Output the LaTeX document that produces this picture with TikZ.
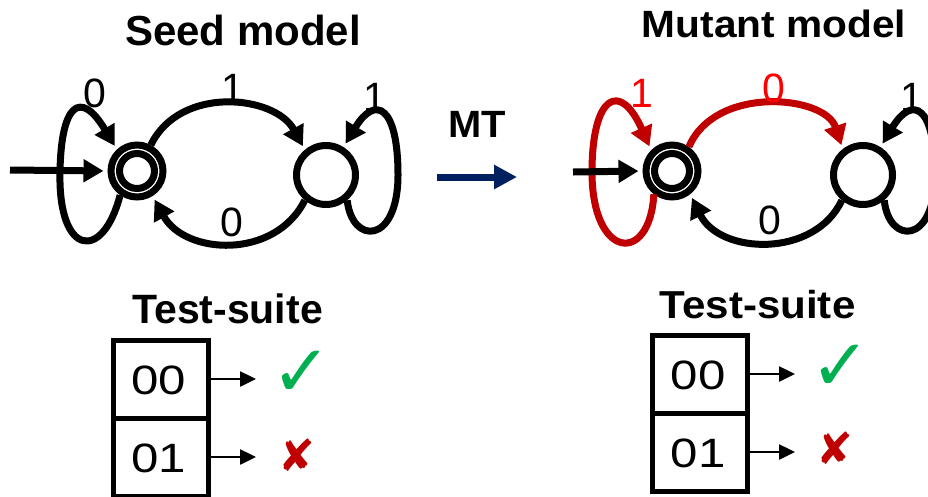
\documentclass[tikz,border=0pt]{standalone}
\usepackage{fontspec}
\setmainfont{Liberation Sans}
\newfontfamily\dejavu{DejaVu Sans}
\usetikzlibrary{arrows.meta}
\definecolor{navy}{HTML}{002060}
\definecolor{dred}{HTML}{C00000}
\definecolor{lred}{HTML}{FF0000}
\definecolor{okgreen}{HTML}{00B050}
\tikzset{
  stateouter/.style={circle,draw,line width=7pt,minimum size=52pt,inner sep=0pt},
  stateinner/.style={circle,draw,line width=7pt,minimum size=35pt,inner sep=0pt},
  stateplain/.style={circle,draw,line width=7pt,minimum size=59pt,inner sep=0pt},
  trans/.style={line width=7pt,-{Triangle[length=20pt,width=22pt]},shorten >=4pt},
  lbl/.style={font=\fontsize{41}{44}\selectfont,inner sep=0pt},
  title/.style={font=\fontsize{42}{48}\selectfont\bfseries,inner sep=0pt,anchor=base},
  tbox/.style={draw,line width=5pt,minimum width=95pt,minimum height=78pt,inner sep=0pt},
  boxtext/.style={font=\fontsize{41}{44}\selectfont,inner sep=0pt,xscale=1.2},
  tarrow/.style={line width=2.5pt,-{Triangle[length=16pt,width=15pt]}},
  okmark/.style={font=\dejavu\fontsize{72}{74}\selectfont,text=okgreen,inner sep=0pt},
  komark/.style={font=\dejavu\fontsize{44}{46}\selectfont,text=dred,inner sep=0pt}
}
\begin{document}
\begin{tikzpicture}[x=1pt,y=-1pt]
\useasboundingbox (0,0) rectangle (928,496);

% titles
\node[title] (t1) at (243,45) {Seed model};
\node[title,font=\fontsize{38}{44}\selectfont\bfseries,xscale=1.07] (t2) at (774,37) {Mutant model};
\node[title,font=\fontsize{38}{44}\selectfont\bfseries,xscale=1.05] (mt) at (477,137) {MT};
\node[title,font=\fontsize{41}{46}\selectfont\bfseries] (ts1) at (227.5,323) {Test-suite};
\node[title,font=\fontsize{39}{44}\selectfont\bfseries,xscale=1.08] (ts2) at (757.5,318) {Test-suite};

% MT arrow
\coordinate (mta) at (437,177);
\coordinate (mtb) at (517,177);
\draw[navy,line width=7pt,-{Triangle[length=23pt,width=23pt]}] (mta) -- (mtb);

% ---------- seed model ----------
\node[stateouter] (s0) at (137,171) {};
\node[stateinner] (s0i) at (137,171) {};
\node[stateplain] (s1) at (326,175) {};

\draw[trans] (s0.62) .. controls (180,85) and (275,95) .. (s1.130);
\draw[trans] (s1.230) .. controls (275,260) and (185,255) .. (s0.-58);
\draw[trans] (s0.235) .. controls (103,262) and (58,257) .. (60,172)
             .. controls (61,105) and (80,88) .. (s0.133);
\draw[trans] (s1.-50) .. controls (352,245) and (398,245) .. (398,175)
             .. controls (398,105) and (375,95) .. (s1.58);
\coordinate (init0) at (10,170);
\draw[trans] (init0) -- (s0.west);

\node[lbl] (l1) at (95,93) {0};
\node[lbl] (l2) at (233,88) {1};
\node[lbl] (l3) at (375,97) {1};
\node[lbl] (l4) at (232,222) {0};

% ---------- mutant model ----------
\node[stateouter] (m0) at (672,171) {};
\node[stateinner] (m0i) at (672,171) {};
\node[stateplain] (m1) at (863,175) {};

\draw[trans,dred] (m0.232) .. controls (650,265) and (592,260) .. (592,172)
             .. controls (592,95) and (620,80) .. (m0.135);
\draw[trans,dred] (m0.55) .. controls (715,85) and (825,95) .. (m1.128);
\draw[trans] (m1.230) .. controls (815,258) and (720,255) .. (m0.-52);
\draw[trans] (m1.-50) .. controls (889,245) and (935,245) .. (935,175)
             .. controls (935,105) and (912,95) .. (m1.58);
\coordinate (init1) at (573,172);
\draw[trans] (init1) -- (m0.west);

\node[lbl,text=lred] (k1) at (642,93) {1};
\node[lbl,text=lred] (k2) at (774,88) {0};
\node[lbl] (k3) at (912,97) {1};
\node[lbl] (k4) at (770,220) {0};

% ---------- test suites ----------
\node[tbox] (tb0) at (160.5,379) {};
\node[tbox] (tb1) at (160.5,457) {};
\node[boxtext] (tx0) at (159,380) {00};
\node[boxtext] (tx1) at (159,458) {01};
\coordinate (ta0) at (256,379);
\coordinate (ta1) at (256,457);
\draw[tarrow] (tb0.east) -- (ta0);
\draw[tarrow] (tb1.east) -- (ta1);
\node[okmark] (ok0) at (302,374) {✓};
\node[komark] (ko0) at (297,455) {✘};

\node[tbox] (mb0) at (699.5,374) {};
\node[tbox] (mb1) at (699.5,452) {};
\node[boxtext] (mx0) at (698,375) {00};
\node[boxtext] (mx1) at (698,453) {01};
\coordinate (ma0) at (795,374);
\coordinate (ma1) at (795,452);
\draw[tarrow] (mb0.east) -- (ma0);
\draw[tarrow] (mb1.east) -- (ma1);
\node[okmark] (ok1) at (841,368) {✓};
\node[komark] (ko1) at (835,448) {✘};
\end{tikzpicture}
\end{document}
